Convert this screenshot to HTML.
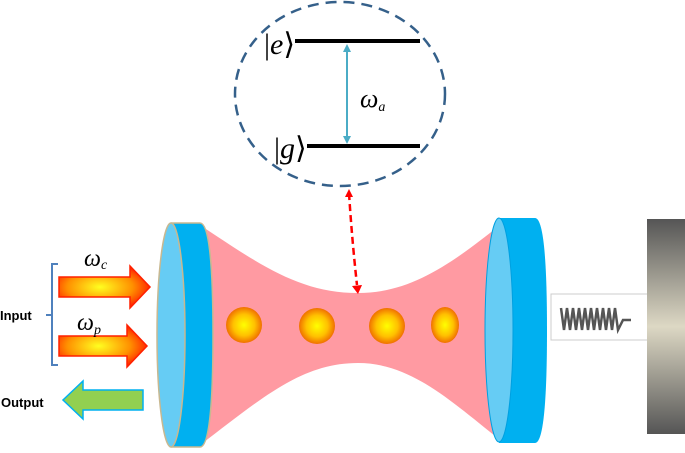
<!DOCTYPE html>
<html><head><style>
body{margin:0;background:#fff;width:685px;height:448px;overflow:hidden}
</style></head><body>
<svg width="685" height="448" viewBox="0 0 685 448" xmlns="http://www.w3.org/2000/svg">
<defs>
<linearGradient id="wall" x1="0" y1="0" x2="0" y2="1">
<stop offset="0" stop-color="#555"/><stop offset="0.5" stop-color="#ddd8c4"/><stop offset="1" stop-color="#555"/>
</linearGradient>
<radialGradient id="ball"><stop offset="0" stop-color="#ffff00"/><stop offset="0.6" stop-color="#ffc000"/><stop offset="1" stop-color="#f07000"/></radialGradient>
<radialGradient id="arr" cx="0.45" cy="0.5" r="0.6"><stop offset="0" stop-color="#ffff20"/><stop offset="0.6" stop-color="#ff9000"/><stop offset="1" stop-color="#ff1000"/></radialGradient>
</defs>
<path d="M200,225 C260,265 300,293 358,293 C410,293 450,265 500,225 L500,440 C450,400 410,363 358,363 C300,363 260,400 200,445 Z" fill="#ff9aa2"/>
<circle cx="244" cy="325" r="18" fill="url(#ball)"/>
<circle cx="317" cy="326" r="18" fill="url(#ball)"/>
<circle cx="387" cy="326" r="18" fill="url(#ball)"/>
<ellipse cx="445" cy="325" rx="14" ry="18" fill="url(#ball)"/>
<path d="M172,223 L200,223 Q213,223 213,335 Q213,447 200,447 L172,447 Z" fill="#00b0f0" stroke="#c8b890" stroke-width="1.5"/>
<ellipse cx="171" cy="335" rx="14" ry="112" fill="#66ccf4" stroke="#c8b890" stroke-width="1.5"/>
<path d="M499,218 L535,218 Q547,218 547,330 Q547,443 535,443 L499,443 Z" fill="#00b0f0"/>
<ellipse cx="499" cy="330" rx="14" ry="112" fill="#66ccf4" stroke="#00a0e0" stroke-width="1"/>
<rect x="551" y="294" width="97" height="46" fill="#fff" stroke="#ccc"/>
<path d="M561,308 l3,22 l3,-22 l3,22 l3,-22 l3,22 l3,-22 l3,22 l3,-22 l3,22 l3,-22 l3,22 l3,-22 l3,22 l3,-22 l3,22 l3,-22 l3,22 l3,-22 l3,22 l5,-10 l8,0" fill="none" stroke="#555" stroke-width="2.5"/>
<rect x="647" y="219" width="38" height="215" fill="url(#wall)"/>
<path d="M59,277 L130,277 L130,266 L150,287 L130,308 L130,297 L59,297 Z" fill="url(#arr)" stroke="#ff2000" stroke-width="1.5"/>
<path d="M59,336 L127,336 L127,325 L147,346 L127,367 L127,356 L59,356 Z" fill="url(#arr)" stroke="#ff2000" stroke-width="1.5"/>
<path d="M143,390 L83,390 L83,381 L63,400 L83,419 L83,410 L143,410 Z" fill="#92d050" stroke="#00b0f0" stroke-width="1.5"/>
<path d="M58,264 L52,264 L52,365 L58,365 M52,315 L46,315" fill="none" stroke="#4f81bd" stroke-width="2"/>
<text x="0" y="320" font-family="Liberation Sans,sans-serif" font-weight="bold" font-size="13">Input</text>
<text x="1" y="407" font-family="Liberation Sans,sans-serif" font-weight="bold" font-size="13">Output</text>
<text x="84" y="266" font-family="Liberation Serif,serif" font-style="italic" font-size="24">ω<tspan font-size="14" dy="3">c</tspan></text>
<text x="77" y="330" font-family="Liberation Serif,serif" font-style="italic" font-size="24">ω<tspan font-size="14" dy="4">p</tspan></text>
<ellipse cx="340" cy="94" rx="105" ry="92" fill="none" stroke="#35608a" stroke-width="2.5" stroke-dasharray="11,7"/>
<line x1="295" y1="41" x2="420" y2="41" stroke="#000" stroke-width="4"/>
<line x1="307" y1="146" x2="420" y2="146" stroke="#000" stroke-width="4"/>
<line x1="347" y1="48" x2="347" y2="140" stroke="#4bacc6" stroke-width="2"/>
<path d="M343,52 L347,44 L351,52 Z M343,136 L347,144 L351,136 Z" fill="#4bacc6"/>
<text x="264" y="54" font-family="Liberation Serif,serif" font-size="30">|<tspan font-style="italic">e</tspan>⟩</text>
<text x="274" y="158" font-family="Liberation Serif,serif" font-size="30">|<tspan font-style="italic">g</tspan>⟩</text>
<text x="360" y="107" font-family="Liberation Serif,serif" font-style="italic" font-size="26">ω<tspan font-size="14" dy="4">a</tspan></text>
<path d="M349,193 Q352,240 357,285" fill="none" stroke="#ff0000" stroke-width="2.5" stroke-dasharray="7,4"/>
<path d="M352,286 L358,294 L362,285 Z" fill="#ff0000"/>
<path d="M345,197 L349,189 L353,197 Z" fill="#ff0000"/>
</svg>
</body></html>
